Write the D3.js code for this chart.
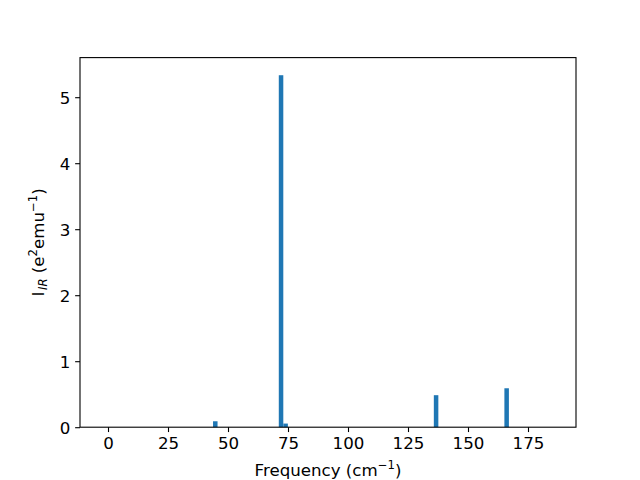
<!DOCTYPE html>
<html>
<head>
<meta charset="utf-8">
<script src="https://cdn.jsdelivr.net/npm/d3@7"></script>
<style>
  html, body { margin: 0; padding: 0; background: #fff; }
  svg { display: block; }
  text { font-family: "DejaVu Sans", sans-serif; fill: #000; }
</style>
</head>
<body>
<svg id="chart" width="640" height="480"></svg>
<script>
// Data
const frequencies = [44.7, 72.1, 74.0, 136.7, 166.1];   // bar centres (cm^-1)
const intensities = [0.09, 5.333, 0.055, 0.485, 0.59];  // I_IR (e^2 emu^-1)
const binWidth = 1.88;
const xTicks = [0, 25, 50, 75, 100, 125, 150, 175];
const yTicks = [0, 1, 2, 3, 4, 5];
const xDomain = [-11.67, 195.0];
const yDomain = [0, 5.6];

const W = 640, H = 480;
const margin = { left: 80, right: 64, top: 57.6, bottom: 52.8 };
const x0 = margin.left, x1 = W - margin.right;
const y0 = H - margin.bottom, y1 = margin.top;

const svg = d3.select("#chart");
svg.append("rect").attr("width", W).attr("height", H).attr("fill", "#fff");

const x = d3.scaleLinear().domain(xDomain).range([x0, x1]);
const y = d3.scaleLinear().domain(yDomain).range([y0, y1]);

const data = frequencies.map((f, i) => ({ f, v: intensities[i] }));

svg.append("g").selectAll("rect").data(data).join("rect")
  .attr("x", d => x(d.f - binWidth / 2))
  .attr("width", d => x(d.f + binWidth / 2) - x(d.f - binWidth / 2))
  .attr("y", d => y(d.v))
  .attr("height", d => y(0) - y(d.v))
  .attr("fill", "#1f77b4");

const fs = 16.67;
const tickLen = 4.86;

// x axis
const xAxis = d3.axisBottom(x).tickValues(xTicks).tickFormat(d3.format("d"))
  .tickSizeInner(tickLen).tickSizeOuter(0).tickPadding(4.86);
const gx = svg.append("g").attr("transform", `translate(0,${y0})`).call(xAxis);
gx.select(".domain").remove();
gx.selectAll(".tick line").attr("stroke", "#000").attr("stroke-width", 1.1);
gx.selectAll(".tick text").attr("font-size", fs).attr("font-family", "DejaVu Sans").attr("dy", "0.72em");

// y axis
const yAxis = d3.axisLeft(y).tickValues(yTicks).tickFormat(d3.format("d"))
  .tickSizeInner(tickLen).tickSizeOuter(0).tickPadding(4.86);
const gy = svg.append("g").attr("transform", `translate(${x0},0)`).call(yAxis);
gy.select(".domain").remove();
gy.selectAll(".tick line").attr("stroke", "#000").attr("stroke-width", 1.1);
gy.selectAll(".tick text").attr("font-size", fs).attr("font-family", "DejaVu Sans").attr("dy", "0.36em");

// frame
svg.append("rect")
  .attr("x", x0).attr("y", y1).attr("width", x1 - x0).attr("height", y0 - y1)
  .attr("fill", "none").attr("stroke", "#000").attr("stroke-width", 1.1);

// x label
const xl = svg.append("text")
  .attr("x", (x0 + x1) / 2).attr("y", 476)
  .attr("text-anchor", "middle").attr("font-size", fs);
xl.append("tspan").text("Frequency (cm");
xl.append("tspan").attr("font-size", fs * 0.7).attr("dy", -7).text("\u22121");
xl.append("tspan").attr("dy", 7).text(")");

// y label
const yl = svg.append("text")
  .attr("transform", `translate(44,${(y0 + y1) / 2}) rotate(-90)`)
  .attr("text-anchor", "middle").attr("font-size", fs);
yl.append("tspan").text("I");
yl.append("tspan").attr("font-size", fs * 0.7).attr("font-style", "italic")
  .attr("dx", 1.5).attr("dy", 3).text("IR");
yl.append("tspan").attr("dy", -3).text(" (e");
yl.append("tspan").attr("font-size", fs * 0.7).attr("dy", -7).text("2");
yl.append("tspan").attr("dy", 7).text("emu");
yl.append("tspan").attr("font-size", fs * 0.7).attr("dy", -7).text("\u22121");
yl.append("tspan").attr("dy", 7).text(")");
</script>
</body>
</html>
